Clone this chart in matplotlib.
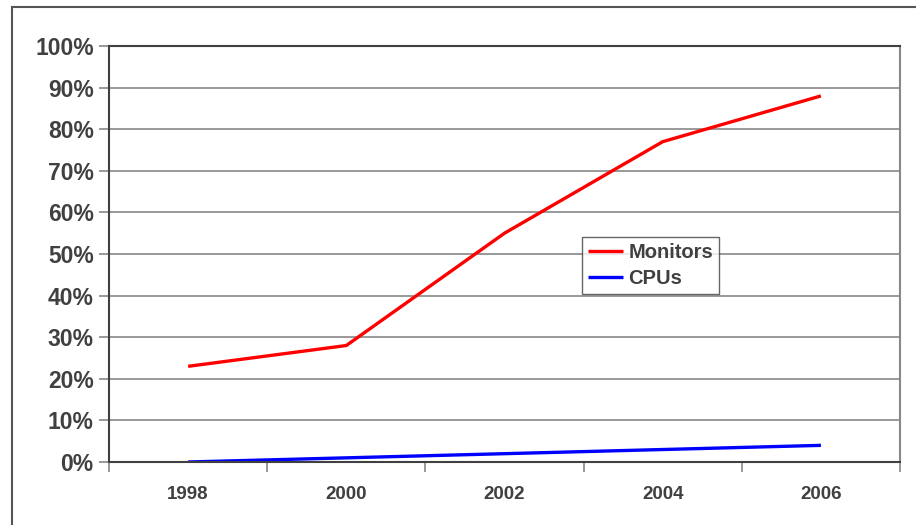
import numpy as np
import matplotlib
matplotlib.use('Agg')
import matplotlib.pyplot as plt
from matplotlib.patches import Rectangle

years = ['1998', '2000', '2002', '2004', '2006']
monitors = [23, 28, 55, 77, 88]
cpus = [0, 1, 2, 3, 4]
yticks = [0, 10, 20, 30, 40, 50, 60, 70, 80, 90, 100]

plt.rcParams['font.family'] = ['Liberation Sans', 'DejaVu Sans']
textColor = '#404040'
gridColor = '#888888'

fig = plt.figure(figsize=(9.16, 5.25), dpi=100)
ax = fig.add_axes([109 / 916, 1 - 462 / 525, (900 - 109) / 916, (462 - 46) / 525])

# outer chart frame
fig.patches.append(Rectangle((12 / 916, -0.05), 1.0, 1 - 7 / 525 + 0.05,
                             transform=fig.transFigure, fill=False,
                             edgecolor='#555555', linewidth=1.5, clip_on=False))

x = np.arange(len(years))
ax.plot(x, monitors, color='#ff0000', linewidth=2.4, label='Monitors', solid_capstyle='butt')
ax.plot(x, cpus, color='#0000ff', linewidth=2.4, label='CPUs', solid_capstyle='butt')

ax.set_xlim(-0.5, len(years) - 0.5)
ax.set_ylim(0, 100)
ax.set_yticks(yticks)
ax.set_yticklabels([f'{v}%' for v in yticks], fontsize=16.5, fontweight='bold', color=textColor)
ax.set_xticks(x)
ax.set_xticklabels(years, fontsize=13.5, fontweight='bold', color=textColor)
ax.tick_params(axis='x', length=0, pad=17)
ax.set_xticks(np.arange(len(years) + 1) - 0.5, minor=True)
ax.tick_params(axis='x', which='minor', length=7, color=gridColor, width=1.2)
ax.tick_params(axis='y', length=7, color=gridColor, width=1.2, pad=4)

ax.grid(axis='y', color=gridColor, linewidth=1.2)
ax.set_axisbelow(True)
for side in ['left', 'bottom', 'top']:
    ax.spines[side].set_color('#404040')
    ax.spines[side].set_linewidth(1.5)
ax.spines['right'].set_color(gridColor)
ax.spines['right'].set_linewidth(1.5)

leg = ax.legend(loc='upper left', bbox_to_anchor=((582 - 109) / 791, (462 - 237) / 416),
                frameon=True, fancybox=False, borderaxespad=0, handlelength=1.75,
                handletextpad=0.25, labelspacing=0.35, borderpad=0.3,
                prop={'size': 14.5, 'weight': 'bold'})
leg.get_frame().set_edgecolor('#404040')
leg.get_frame().set_linewidth(1.0)
for t in leg.get_texts():
    t.set_color(textColor)

plt.savefig('out.png', dpi=100)
plt.close()
